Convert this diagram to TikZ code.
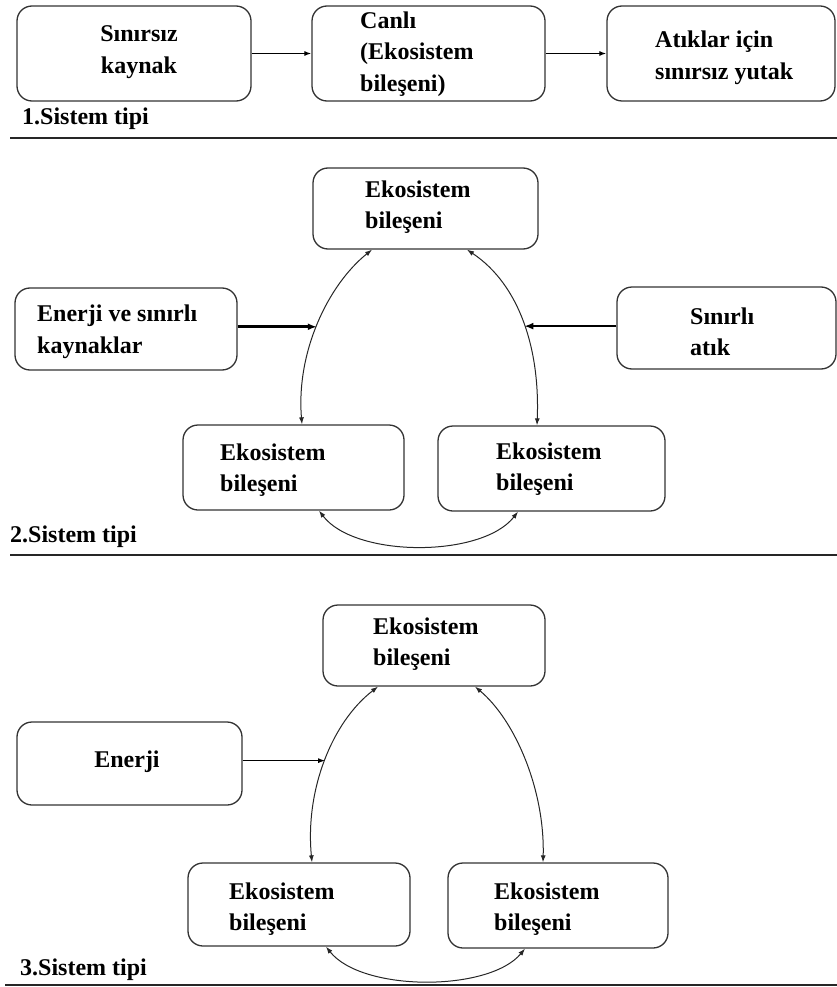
\documentclass[tikz,border=0pt]{standalone}
\usepackage{fontspec}
\setmainfont{Liberation Serif}
\usetikzlibrary{arrows.meta}
\begin{document}
\begin{tikzpicture}[x=1pt,y=-1pt,
  boxpanel/.style={draw=black!80,line width=1.3pt,rounded corners=15pt,inner sep=0pt},
  txt/.style={font=\fontsize{24}{31.5}\selectfont\bfseries,align=left,anchor=west,inner sep=0pt},
  flowarrow/.style={-{Latex[length=7pt,width=5pt]},line width=1.2pt},
  feedarrow/.style={-{Latex[length=9pt,width=7pt]},line width=2.6pt},
  ringarrow/.style={{Latex[length=7pt,width=5pt]}-{Latex[length=7pt,width=5pt]},line width=1pt,black!85},
  sepline/.style={line width=2pt,black!85}
]
\useasboundingbox (0,0) rectangle (837,987);

% ---------- 1. Sistem tipi: linear flow ----------
\node[boxpanel,minimum width=234pt,minimum height=95pt] (s1a) at (134,53.5) {};
\node[boxpanel,minimum width=233pt,minimum height=95pt] (s1b) at (428.5,53.5) {};
\node[boxpanel,minimum width=228pt,minimum height=95pt] (s1c) at (721,53.5) {};
\node[txt,align=center,anchor=center] (t1a) at (139,52) {Sınırsız\\kaynak};
\node[txt] (t1b) at (360,54) {Canlı\\(Ekosistem\\bileşeni)};
\node[txt] (t1c) at (655,58) {Atıklar için\\sınırsız yutak};
\draw[flowarrow] (s1a.east) -- (s1b.west);
\draw[flowarrow] (s1b.east) -- (s1c.west);
\node[txt] (cap1) at (22,119) {1.Sistem tipi};
\draw[sepline] (10,138) -- (837,138);

% ---------- 2. Sistem tipi: ring with limited inputs and wastes ----------
\node[boxpanel,minimum width=225pt,minimum height=81pt] (s2top) at (425.5,208.5) {};
\node[boxpanel,minimum width=222pt,minimum height=82pt] (s2left) at (126,329) {};
\node[boxpanel,minimum width=219pt,minimum height=82pt] (s2right) at (726.5,328) {};
\node[boxpanel,minimum width=221pt,minimum height=85pt] (s2bl) at (293.5,467.5) {};
\node[boxpanel,minimum width=227pt,minimum height=85pt] (s2br) at (551.5,468.5) {};
\node[txt] (t2top) at (365,207) {Ekosistem\\bileşeni};
\node[txt] (t2left) at (37,332) {Enerji ve sınırlı\\kaynaklar};
\node[txt] (t2right) at (690,332) {Sınırlı\\atık};
\node[txt] (t2bl) at (220,470) {Ekosistem\\bileşeni};
\node[txt] (t2br) at (496,469) {Ekosistem\\bileşeni};

\draw[ringarrow] ([xshift=-53.5pt]s2top.south) .. controls (328,285) and (296,352) .. ([xshift=8.5pt]s2bl.north)
  coordinate[pos=0.52] (j2l);
\draw[ringarrow] ([xshift=41.5pt]s2top.south) .. controls (520,285) and (540,350) .. ([xshift=-14.5pt]s2br.north)
  coordinate[pos=0.52] (j2r);
\draw[ringarrow] ([xshift=25.5pt]s2bl.south) .. controls (355,558) and (482,558) .. ([xshift=-33.5pt]s2br.south);
\draw[feedarrow] (s2left.east |- j2l) -- (j2l);
\draw[feedarrow] (s2right.west |- j2r) -- (j2r);
\node[txt] (cap2) at (10,537) {2.Sistem tipi};
\draw[sepline] (10,555) -- (837,555);

% ---------- 3. Sistem tipi: ring driven by energy only ----------
\node[boxpanel,minimum width=222pt,minimum height=81pt] (s3top) at (434,645.5) {};
\node[boxpanel,minimum width=225pt,minimum height=83pt] (s3left) at (129.5,763.5) {};
\node[boxpanel,minimum width=222pt,minimum height=83pt] (s3bl) at (299,904.5) {};
\node[boxpanel,minimum width=220pt,minimum height=85pt] (s3br) at (558,905.5) {};
\node[txt] (t3top) at (373,644) {Ekosistem\\bileşeni};
\node[txt,anchor=center] (t3left) at (127,762) {Enerji};
\node[txt] (t3bl) at (229,909) {Ekosistem\\bileşeni};
\node[txt] (t3br) at (494,909) {Ekosistem\\bileşeni};

\draw[ringarrow] ([xshift=-56pt]s3top.south) .. controls (332,722) and (305,790) .. ([xshift=13pt]s3bl.north)
  coordinate[pos=0.5] (j3l);
\draw[ringarrow] ([xshift=41pt]s3top.south) .. controls (515,720) and (545,790) .. ([xshift=-15pt]s3br.north);
\draw[ringarrow] ([xshift=27pt]s3bl.south) .. controls (362,992) and (489,992) .. ([xshift=-33pt]s3br.south);
\draw[flowarrow] (s3left.east |- j3l) -- (j3l);
\node[txt] (cap3) at (20,970) {3.Sistem tipi};
\draw[sepline] (5,985) -- (837,985);
\end{tikzpicture}
\end{document}
